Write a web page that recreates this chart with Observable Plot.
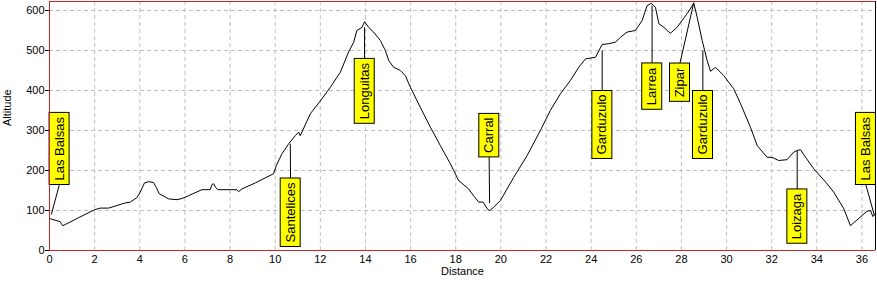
<!DOCTYPE html>
<html><head><meta charset="utf-8">
<script src="https://cdn.jsdelivr.net/npm/d3@7"></script>
<script src="https://cdn.jsdelivr.net/npm/@observablehq/plot@0.6"></script>
<style>body{margin:0;background:#fff} svg{display:block}</style>
</head><body><div id="chart"></div>
<script>
// Elevation profile (distance in km, altitude in m)
const dist = [0.00,0.47,0.58,0.70,1.29,2.00,2.25,2.62,3.36,3.58,3.87,4.02,4.21,4.39,4.61,4.73,4.86,5.28,5.65,5.87,6.16,6.75,7.12,7.20,7.27,7.37,7.46,8.30,8.38,8.53,9.12,9.93,10.05,10.30,10.60,10.89,11.04,11.11,11.56,12.07,12.44,12.89,13.25,13.48,13.62,13.85,13.96,14.14,14.36,14.66,14.88,15.03,15.25,15.55,15.77,15.99,16.43,16.88,17.32,17.76,18.13,18.57,18.79,19.02,19.21,19.43,19.50,19.68,19.98,20.57,21.16,21.75,22.19,22.64,23.08,23.45,23.75,24.19,24.49,24.78,25.08,25.30,25.59,25.96,26.26,26.48,26.66,26.85,27.00,27.22,27.51,27.81,28.25,28.55,28.70,28.92,29.14,29.29,29.51,29.88,30.32,30.62,31.06,31.36,31.80,32.02,32.31,32.68,32.98,33.13,33.28,33.50,33.87,34.39,34.75,35.20,35.49,36.22,36.38,36.48,36.60];
const alt  = [80,72,62,65,82,102,106,106,119,121,132,146,169,172,170,158,142,129,127,130,137,152,152,165,167,157,152,152,147,154,169,192,212,242,267,287,296,287,342,379,408,446,496,521,550,558,572,558,546,525,500,475,458,450,437,408,358,308,262,217,175,154,137,121,121,102,100,108,125,183,237,300,350,392,425,458,479,483,515,517,521,533,546,550,575,612,618,608,567,558,543,558,592,618,583,525,475,448,458,437,404,367,308,262,233,233,225,227,246,250,252,233,204,171,146,104,62,98,100,85,92];

// Waypoint labels
const placeNames = ["Las Balsas","Santelices","Longuitas","Carral","Garduzulo","Larrea","Zipar","Garduzulo","Loizaga","Las Balsas"];
const placeDist  = [0.08,10.67,13.96,19.50,24.49,26.70,28.55,28.95,33.13,36.55];
const placeAlt   = [90,267,558,118,500,612,620,500,249,88];
const boxDist    = [0.44,10.68,13.96,19.48,24.49,26.70,27.93,28.95,33.13,36.17];
const boxAlt     = [165,180,479,234,400,467,467,400,152,165];
const boxAbove   = [true,false,false,true,false,false,false,false,false,true];

const xTicks = [0,2,4,6,8,10,12,14,16,18,20,22,24,26,28,30,32,34,36];
const yTicks = [0,100,200,300,400,500,600];

const profile = dist.map((d, i) => ({d, a: alt[i]}));
const places = placeNames.map((name, i) => ({name, d: placeDist[i], a: placeAlt[i], bx: boxDist[i], by: boxAlt[i], above: boxAbove[i]}));

const RED = "#c62828";
const FONT = "'Liberation Sans', Arial, sans-serif";
const XMAX = 36.6, YMAX = 622.5;

const chart = Plot.plot({
  width: 877, height: 282,
  marginLeft: 49, marginRight: 2, marginTop: 1, marginBottom: 32,
  style: {fontFamily: FONT, fontSize: "11px", color: "black", background: "white"},
  x: {domain: [0, XMAX], ticks: xTicks, tickSize: 0, tickPadding: 5, label: null},
  y: {domain: [0, YMAX], ticks: yTicks, tickSize: 4, tickPadding: 1, label: null},
  marks: [
    Plot.ruleX(xTicks, {stroke: "#c0c0c0", strokeDasharray: "4,3"}),
    Plot.ruleY(yTicks, {stroke: "#c0c0c0", strokeDasharray: "4,3"}),
    Plot.line(profile, {x: "d", y: "a", stroke: "black", strokeWidth: 1}),
    Plot.link(places, {x1: "d", y1: "a", x2: "bx", y2: "by", stroke: "black", strokeWidth: 1}),
    Plot.text(places.filter(p => p.above), {x: "bx", y: "by", text: "name", rotate: -90, textAnchor: "start", dy: -4, fontSize: 13, fill: "black"}),
    Plot.text(places.filter(p => !p.above), {x: "bx", y: "by", text: "name", rotate: -90, textAnchor: "end", dy: 4, fontSize: 13, fill: "black"}),
    Plot.ruleY([0, YMAX], {stroke: RED}),
    Plot.ruleX([0], {stroke: RED}),
    Plot.ruleX([XMAX], {stroke: "black"}),
    Plot.text(["Altitude"], {text: d => d, frameAnchor: "left", dx: -42, rotate: -90, fontSize: 11, fill: "black"}),
    Plot.text(["Distance"], {text: d => d, frameAnchor: "bottom", dy: 24, fontSize: 11, fill: "black"})
  ]
});
document.getElementById("chart").appendChild(chart);

// yellow label boxes behind the rotated place names
Array.from(chart.querySelectorAll("text"))
  .filter(t => placeNames.includes(t.textContent.trim()))
  .forEach(t => {
    const b = t.getBBox();
    const cy = b.y + b.height / 2;
    const r = document.createElementNS("http://www.w3.org/2000/svg", "rect");
    r.setAttribute("x", b.x - 4);
    r.setAttribute("width", b.width + 8);
    r.setAttribute("y", cy - 10);
    r.setAttribute("height", 20);
    r.setAttribute("fill", "#ffff00");
    r.setAttribute("stroke", "black");
    r.setAttribute("stroke-width", 1);
    const tr = t.getAttribute("transform");
    if (tr) r.setAttribute("transform", tr);
    t.parentNode.insertBefore(r, t);
  });
</script>
</body></html>
